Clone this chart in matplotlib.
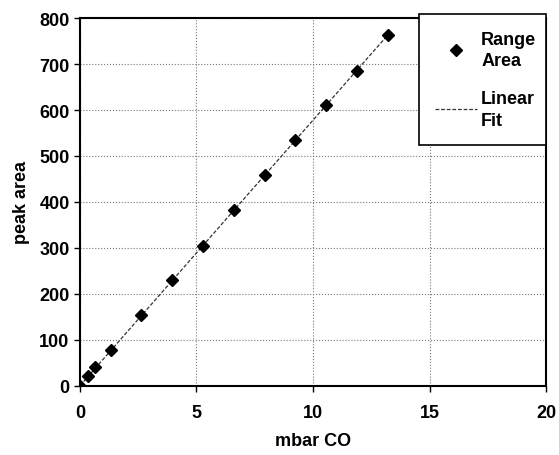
import matplotlib

matplotlib.use("Agg")
import matplotlib.pyplot as plt

# values
mbar_co = [0, 0.33, 0.66, 1.32, 2.64, 3.96, 5.28, 6.6, 7.92, 9.24, 10.56, 11.88, 13.2]
peak_area = [0, 22, 40, 78, 153, 230, 305, 382, 458, 535, 612, 686, 763]
fit_x = [0, 13.2]
fit_slope = 57.8

plt.rcParams["font.family"] = ["Liberation Sans", "DejaVu Sans"]
plt.rcParams["font.weight"] = "bold"
plt.rcParams["axes.labelweight"] = "bold"

fig = plt.figure(figsize=(5.59, 4.56), dpi=100)
ax = fig.add_axes([0.143, 0.152, 0.834, 0.806])

fit_y = [fit_slope * x for x in fit_x]
ax.plot(fit_x, fit_y, color="#333333", linewidth=0.9, linestyle=(0, (3, 1.5)),
        label="Linear\nFit", zorder=2)
ax.plot(mbar_co, peak_area, linestyle="none", marker="D", markersize=6.5,
        color="black", label="Range\nArea", zorder=3)

ax.set_xlim(0, 20)
ax.set_ylim(0, 800)
ax.set_xticks([0, 5, 10, 15, 20])
ax.set_yticks(range(0, 801, 100))
ax.grid(True, color="#777777", linestyle=":", linewidth=0.8)
ax.set_axisbelow(True)
for spine in ax.spines.values():
    spine.set_color("black")
    spine.set_linewidth(1.5)
ax.tick_params(axis="both", labelsize=13, direction="out", length=4, width=1)
ax.tick_params(axis="x", pad=9)

ax.set_xlabel("mbar CO", fontsize=13, labelpad=8)
ax.set_ylabel("peak area", fontsize=13, labelpad=7)

handles, labels = ax.get_legend_handles_labels()
leg = ax.legend(handles[::-1], labels[::-1], loc="upper left",
                bbox_to_anchor=(0.727, 0.665, 0.273, 0.345), mode="expand",
                fontsize=13, frameon=True, fancybox=False, borderaxespad=0,
                handlelength=2.3, handletextpad=0.25, labelspacing=1.15,
                borderpad=0.9)
for text in leg.get_texts():
    text.set_linespacing(1.35)
leg.get_frame().set_edgecolor("black")
leg.get_frame().set_linewidth(1.2)
leg.get_frame().set_alpha(1.0)
leg.set_zorder(5)

fig.savefig("out.png", dpi=100)
